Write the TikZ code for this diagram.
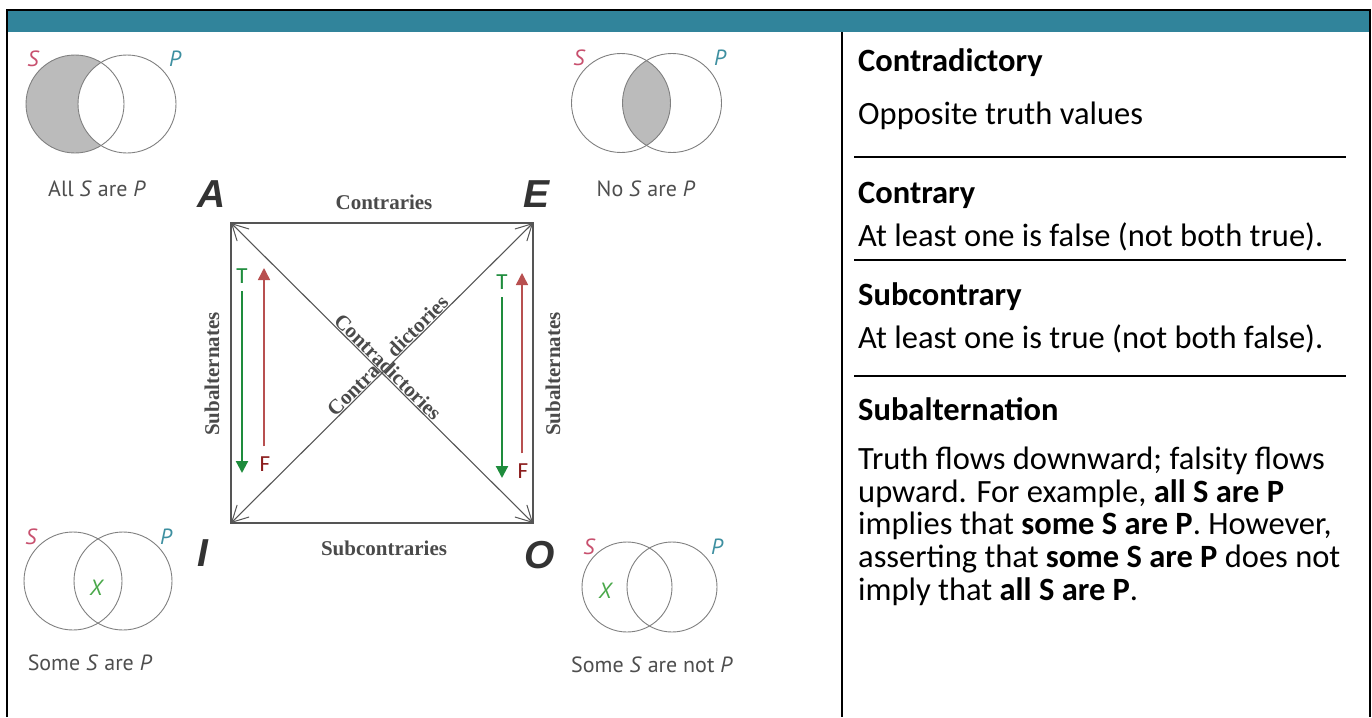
\documentclass[tikz,border=0pt]{standalone}
\usepackage{fontspec}
\setmainfont{Carlito}
\newfontfamily\vennfont{PT Sans}
\newfontfamily\heavyfont{Liberation Sans}
\newfontfamily\serffont{Liberation Serif}
\usetikzlibrary{arrows.meta}
\definecolor{headteal}{HTML}{31849B}
\definecolor{venngray}{HTML}{808080}
\definecolor{shadegray}{HTML}{BBBBBB}
\definecolor{sred}{HTML}{C8506E}
\definecolor{pteal}{HTML}{3D8FA0}
\definecolor{xgreen}{HTML}{4AA84A}
\definecolor{capgray}{HTML}{4E4E4E}
\definecolor{lettergray}{HTML}{333333}
\definecolor{sqgray}{HTML}{555555}
\definecolor{sqtext}{HTML}{4A4A4A}
\definecolor{tgreen}{HTML}{1E8C3C}
\definecolor{fline}{HTML}{B85050}
\definecolor{fdark}{HTML}{8B1C1C}
\begin{document}
\begin{tikzpicture}[x=1pt,y=-1pt,
  vennline/.style={draw=venngray, line width=0.9pt},
  vsl/.style={font=\vennfont\itshape\fontsize{22}{26}\selectfont, text=sred, inner sep=0pt},
  vpl/.style={font=\vennfont\itshape\fontsize{22}{26}\selectfont, text=pteal, inner sep=0pt},
  vxl/.style={font=\vennfont\itshape\fontsize{22}{26}\selectfont, text=xgreen, inner sep=0pt},
  vcap/.style={font=\vennfont\fontsize{22}{26}\selectfont, text=capgray, inner sep=0pt},
  corner/.style={font=\heavyfont\bfseries\itshape\fontsize{39}{44}\selectfont, text=lettergray, inner sep=0pt},
  sqlabel/.style={font=\serffont\bfseries\fontsize{21}{25}\selectfont, text=sqtext, inner sep=1pt},
  sqline/.style={draw=sqgray, line width=1.1pt},
  diag/.style={sqline, {Straight Barb[length=16pt,width=17pt,line width=1pt]}-{Straight Barb[length=16pt,width=17pt,line width=1pt]}},
  tlabel/.style={font=\fontsize{23}{26}\selectfont, text=tgreen, inner sep=0pt},
  flabel/.style={font=\fontsize{23}{26}\selectfont, text=fdark, inner sep=0pt},
  greenarrow/.style={draw=tgreen, line width=2.2pt, -{Triangle[length=12pt,width=12pt]}},
  redarrow/.style={draw=fline, line width=1.5pt, -{Triangle[length=12pt,width=12pt]}},
  rhead/.style={font=\bfseries\fontsize{32.5}{34}\selectfont, anchor=base west, inner sep=0pt},
  rbody/.style={font=\fontsize{32.5}{34}\selectfont, anchor=base west, inner sep=0pt},
  rule/.style={line width=1.6pt}
]
\useasboundingbox (0,0) rectangle (1372,717);
\fill[white] (0,0) rectangle (1372,717);
% frame and header
\fill[headteal] (7,10) rectangle (1370,32);
\draw[line width=2.6pt] (7,717) -- (7,10) -- (1370,10) -- (1370,717);
\draw[line width=2pt] (842,32) -- (842,717);

% ---------- Venn: All S are P ----------
\fill[shadegray] (75,104) circle[radius=49pt];
\fill[white] (127,104) circle[radius=49pt];
\draw[vennline] (75,104) circle[radius=49pt];
\draw[vennline] (127,104) circle[radius=49pt];
\node[vsl] (s1) at (33,59) {S};
\node[vpl] (p1) at (175,59) {P};
\node[vcap] (cap1) at (97,189) {All \textit{S} are \textit{P}};

% ---------- Venn: No S are P ----------
\begin{scope}
\clip (621,103) circle[radius=49.5pt];
\fill[shadegray] (672,103) circle[radius=49.5pt];
\end{scope}
\draw[vennline] (621,103) circle[radius=49.5pt];
\draw[vennline] (672,103) circle[radius=49.5pt];
\node[vsl] (s2) at (579,58) {S};
\node[vpl] (p2) at (720,58) {P};
\node[vcap] (cap2) at (646,189) {No \textit{S} are \textit{P}};

% ---------- Venn: Some S are P ----------
\draw[vennline] (73,581) circle[radius=49pt];
\draw[vennline] (123,581) circle[radius=49pt];
\node[vsl] (s3) at (31,537) {S};
\node[vpl] (p3) at (166,537) {P};
\node[vxl] (x3) at (96,588) {X};
\node[vcap] (cap3) at (90,663) {Some \textit{S} are \textit{P}};

% ---------- Venn: Some S are not P ----------
\draw[vennline] (627,587) circle[radius=45pt];
\draw[vennline] (672,587) circle[radius=45pt];
\node[vsl] (s4) at (589,547) {S};
\node[vpl] (p4) at (717,547) {P};
\node[vxl] (x4) at (605,591) {X};
\node[vcap] (cap4) at (652,665) {Some \textit{S} are not \textit{P}};

% ---------- square of opposition ----------
\coordinate (cA) at (231,223);
\coordinate (cE) at (533,223);
\coordinate (cI) at (231,523);
\coordinate (cO) at (533,523);
\node[corner] (A) at (212,194) {A};
\node[corner] (E) at (536,194) {E};
\node[corner] (I) at (203,553) {I};
\node[corner] (O) at (540,555) {O};

\draw[sqline] (cA) -- (cE) -- (cO) -- (cI) -- cycle;
\draw[diag] (cA) -- (cO);
\draw[diag] (cI) -- (cE);

\node[sqlabel] (contr) at (384,202) {Contraries};
\node[sqlabel] (subcontr) at (384,548) {Subcontraries};
\node[sqlabel, rotate=90] (subL) at (212,374) {Subalternates};
\node[sqlabel, rotate=90] (subR) at (553,374) {Subalternates};
\path (cA) -- (cO) node[sqlabel, pos=0.5, sloped, above] (dAO) {Contradictories};
\path (cI) -- (cE) node[sqlabel, pos=0.424, sloped, above] (dIE1) {Contra}
                   node[sqlabel, pos=0.637, sloped, above] (dIE2) {dictories};

% T / F arrows
\node[tlabel] (T1) at (242,276) {T};
\coordinate (T1end) at (242,473);
\draw[greenarrow, shorten <=15pt] (T1.center) -- (T1end);
\node[flabel] (F1) at (265,464) {F};
\coordinate (F1end) at (264,268);
\draw[redarrow, shorten <=10pt] (F1.north -| F1end) -- (F1end);

\node[tlabel] (T2) at (502,282) {T};
\coordinate (T2end) at (502,478);
\draw[greenarrow, shorten <=15pt] (T2.center) -- (T2end);
\node[flabel] (F2) at (523,471) {F};
\coordinate (F2end) at (522,273);
\draw[redarrow, shorten <=10pt] (F2.north -| F2end) -- (F2end);

% ---------- right column ----------
\node[rhead] (h1) at (858,71.5) {Contradictory};
\node[rbody] (b1) at (858,124.5) {Opposite truth values};
\coordinate (r1a) at (854,157); \coordinate (r1b) at (1346,157);
\draw[rule] (r1a) -- (r1b);
\node[rhead] (h2) at (858,203.5) {Contrary};
\node[rbody] (b2) at (858,246.5) {At least one is false (not both true).};
\coordinate (r2a) at (854,260); \coordinate (r2b) at (1346,260);
\draw[rule] (r2a) -- (r2b);
\node[rhead] (h3) at (858,305.5) {Subcontrary};
\node[rbody] (b3) at (858,348.5) {At least one is true (not both false).};
\coordinate (r3a) at (854,376); \coordinate (r3b) at (1346,376);
\draw[rule] (r3a) -- (r3b);
\node[rhead] (h4) at (858,420.5) {Subalternation};
\node[rbody] (l1) at (858,469.5) {Truth flows downward; falsity flows};
\node[rbody] (l2) at (858,502.5) {upward. For example, \textbf{all S are P}};
\node[rbody] (l3) at (858,534.5) {implies that \textbf{some S are P}. However,};
\node[rbody] (l4) at (858,567.5) {asserting that \textbf{some S are P} does not};
\node[rbody] (l5) at (858,600.5) {imply that \textbf{all S are P}.};
\end{tikzpicture}
\end{document}
